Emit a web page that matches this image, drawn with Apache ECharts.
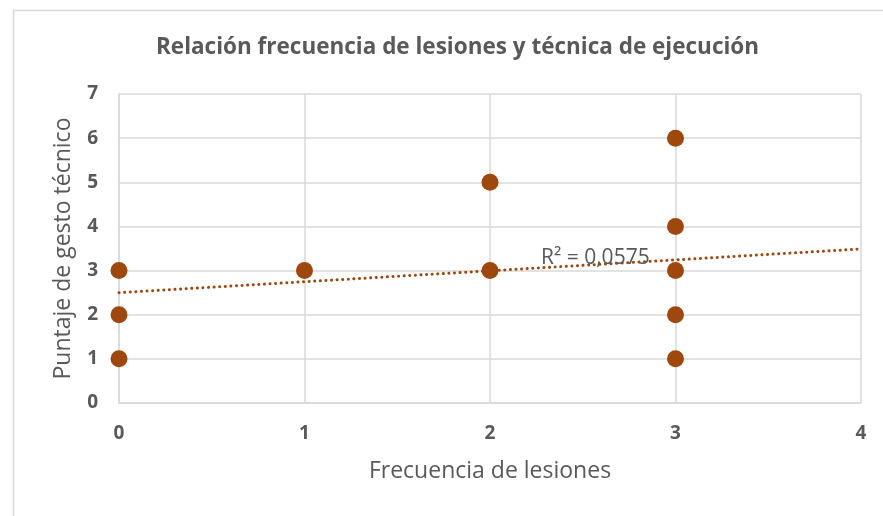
<!DOCTYPE html>
<html>
<head>
<meta charset="utf-8">
<title>Relación frecuencia de lesiones y técnica de ejecución</title>
<script src="https://cdn.jsdelivr.net/npm/echarts@6/dist/echarts.min.js"></script>
<style>
  html, body { margin: 0; padding: 0; background: #fff; }
  #chart { width: 883px; height: 516px; }
</style>
</head>
<body>
<div id="chart"></div>
<script>
// datos
const frecuencia = [0, 0, 0, 1, 2, 2, 3, 3, 3, 3, 3]
const puntaje = [1, 2, 3, 3, 3, 5, 1, 2, 3, 4, 6]
// línea de tendencia (lineal)
const tendenciaX = [0, 4]
const tendenciaY = [2.5, 3.49]
const xTicks = [0, 1, 2, 3, 4]
const yTicks = [0, 1, 2, 3, 4, 5, 6, 7]
const r2Texto = 'R² = 0,0575'

const gris = '#595959'
const naranja = '#9E480E'
const fuente = '"Open Sans", "Noto Sans", sans-serif'

const chart = echarts.init(document.getElementById('chart'))

chart.setOption({
  animation: false,
  backgroundColor: '#fff',
  title: {
    text: 'Relación frecuencia de lesiones y técnica de ejecución',
    left: 151,
    top: 31,
    textStyle: { color: gris, fontSize: 22.5, fontWeight: 'bold', fontFamily: fuente }
  },
  grid: { left: 119, top: 94, width: 742, height: 309, containLabel: false },
  xAxis: {
    type: 'value',
    min: xTicks[0],
    max: xTicks[xTicks.length - 1],
    interval: 1,
    name: 'Frecuencia de lesiones',
    nameLocation: 'middle',
    nameGap: 57,
    nameTextStyle: { color: gris, fontSize: 23, fontFamily: fuente },
    axisLine: { show: true, lineStyle: { color: '#d9d9d9', width: 1.5 } },
    axisTick: { show: false },
    axisLabel: { color: gris, fontSize: 19, fontWeight: 'bold', fontFamily: fuente, margin: 21 },
    splitLine: { show: true, lineStyle: { color: '#d9d9d9', width: 1.5 } }
  },
  yAxis: {
    type: 'value',
    min: yTicks[0],
    max: yTicks[yTicks.length - 1],
    interval: 1,
    name: 'Puntaje de gesto técnico',
    nameLocation: 'middle',
    nameGap: 44,
    nameTextStyle: { color: gris, fontSize: 23, fontFamily: fuente },
    axisLine: { show: true, lineStyle: { color: '#d9d9d9', width: 1.5 } },
    axisTick: { show: false },
    axisLabel: { color: gris, fontSize: 19, fontWeight: 'bold', fontFamily: fuente, margin: 21 },
    splitLine: { show: true, lineStyle: { color: '#d9d9d9', width: 1.5 } }
  },
  series: [
    {
      type: 'line',
      data: tendenciaX.map((x, i) => [x, tendenciaY[i]]),
      showSymbol: false,
      symbol: 'none',
      lineStyle: { color: naranja, width: 3, type: [0.1, 5.5], cap: 'round' },
      z: 3,
      silent: true
    },
    {
      type: 'scatter',
      data: frecuencia.map((x, i) => [x, puntaje[i]]),
      symbolSize: 17,
      itemStyle: { color: naranja, opacity: 1 },
      z: 4
    }
  ],
  graphic: [
    {
      type: 'rect',
      left: 11,
      top: 8,
      shape: { width: 900, height: 540 },
      style: { fill: 'none', stroke: '#d9d9d9', lineWidth: 1.5 },
      silent: true
    },
    {
      type: 'text',
      left: 541,
      top: 248,
      z: 10,
      style: { text: r2Texto, fill: gris, fontSize: 21, fontFamily: fuente }
    }
  ]
})
</script>
</body>
</html>
